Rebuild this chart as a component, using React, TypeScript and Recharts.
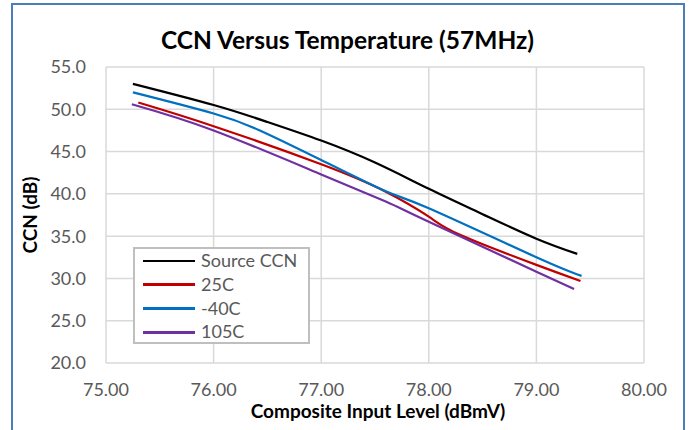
import React from 'react';
import { LineChart, Line, XAxis, YAxis, CartesianGrid } from 'recharts';

const sourceX = [75.25, 76.0, 76.5, 77.0, 77.5, 78.0, 78.5, 79.0, 79.38];
const sourceY = [53.0, 50.5, 48.5, 46.3, 43.7, 40.6, 37.6, 34.7, 32.9];

const t25X = [75.3, 76.0, 77.0, 77.6, 78.0, 78.3, 79.0, 79.41];
const t25Y = [50.8, 48.0, 43.5, 40.25, 37.3, 35.1, 31.6, 29.7];

const tm40X = [75.25, 76.0, 76.43, 77.0, 77.6, 78.0, 79.0, 79.42];
const tm40Y = [52.0, 49.5, 47.5, 44.0, 40.3, 38.3, 32.5, 30.3];

const t105X = [75.24, 76.0, 77.0, 77.6, 78.0, 79.0, 79.35];
const t105Y = [50.6, 47.5, 42.3, 39.1, 36.7, 30.8, 28.75];

const xTicks = [75, 76, 77, 78, 79, 80];
const yTicks = [20, 25, 30, 35, 40, 45, 50, 55];

const seriesNames = ['Source CCN', '25C', '-40C', '105C'];
const seriesColors = ['#000000', '#C00000', '#0070C0', '#7030A0'];

const toPoints = (xs: number[], ys: number[]) => xs.map((x, i) => ({ x, y: ys[i] }));

const series = [
  toPoints(sourceX, sourceY),
  toPoints(t25X, t25Y),
  toPoints(tm40X, tm40Y),
  toPoints(t105X, t105Y),
];

const FONT = 'Lato, "Open Sans", sans-serif';

const LegendBox = () => (
  <div
    style={{
      position: 'absolute',
      left: 133,
      top: 247,
      width: 173,
      height: 93,
      border: '2px solid #BFBFBF',
      background: '#fff',
      fontFamily: FONT,
      fontSize: 18,
      color: '#595959',
    }}
  >
    {seriesNames.map((n, i) => (
      <div key={n} style={{ display: 'flex', alignItems: 'center', height: 23.8 }}>
        <div style={{ width: 52, height: 2.5, background: seriesColors[i], marginLeft: 8, marginRight: 6 }} />
        <span style={{ lineHeight: '23.8px' }}>{n}</span>
      </div>
    ))}
  </div>
);

export default function App() {
  return (
    <div style={{ position: 'absolute', left: 0, top: 0, width: 691, height: 430, overflow: 'hidden', background: '#fff' }}>
      <div
        style={{
          position: 'absolute',
          left: 11,
          top: 3,
          width: 670,
          height: 460,
          border: '2px solid #4A7EBB',
        }}
      />
      <div
        style={{
          position: 'absolute',
          left: 12,
          width: 671,
          top: 26,
          textAlign: 'center',
          fontFamily: FONT,
          fontWeight: 700,
          fontSize: 24.5,
          lineHeight: '28px',
          color: '#000',
        }}
      >
        CCN Versus Temperature (57MHz)
      </div>
      <LineChart
        width={691}
        height={430}
        margin={{ top: 67, right: 47, bottom: 37, left: 0 }}
        style={{ position: 'absolute', left: 0, top: 0 }}
      >
        <CartesianGrid stroke="#D9D9D9" strokeWidth={1.5} />
        <XAxis
          type="number"
          dataKey="x"
          domain={[75, 80]}
          ticks={xTicks}
          tickFormatter={(v: number) => v.toFixed(2)}
          axisLine={false}
          tickLine={false}
          tickSize={0}
          tickMargin={20}
          height={30}
          tick={{ fill: '#595959', fontSize: 18, fontFamily: FONT }}
          allowDataOverflow
          label={{
            content: (props: any) => {
              const vb = props.viewBox || {};
              return (
                <text
                  x={vb.x + vb.width / 2 + 3}
                  y={418}
                  textAnchor="middle"
                  fontFamily={FONT}
                  fontWeight={700}
                  fontSize={19}
                  fill="#000"
                >
                  Composite Input Level (dBmV)
                </text>
              );
            },
          }}
        />
        <YAxis
          type="number"
          domain={[20, 55]}
          ticks={yTicks}
          tickFormatter={(v: number) => v.toFixed(1)}
          axisLine={false}
          tickLine={false}
          tickSize={0}
          tickMargin={20}
          width={106}
          tick={{ fill: '#595959', fontSize: 18, fontFamily: FONT }}
          label={{
            content: (props: any) => {
              const vb = props.viewBox || {};
              const cx = 37;
              const cy = vb.y + vb.height / 2;
              return (
                <text
                  x={cx}
                  y={cy}
                  transform={`rotate(-90, ${cx}, ${cy})`}
                  textAnchor="middle"
                  fontFamily={FONT}
                  fontWeight={700}
                  fontSize={19}
                  fill="#000"
                >
                  CCN (dB)
                </text>
              );
            },
          }}
        />
        {series.map((pts, i) => (
          <Line
            key={seriesNames[i]}
            data={pts}
            dataKey="y"
            name={seriesNames[i]}
            type="natural"
            stroke={seriesColors[i]}
            strokeWidth={2.2}
            dot={false}
            activeDot={false}
            isAnimationActive={false}
          />
        ))}
      </LineChart>
      <LegendBox />
    </div>
  );
}
